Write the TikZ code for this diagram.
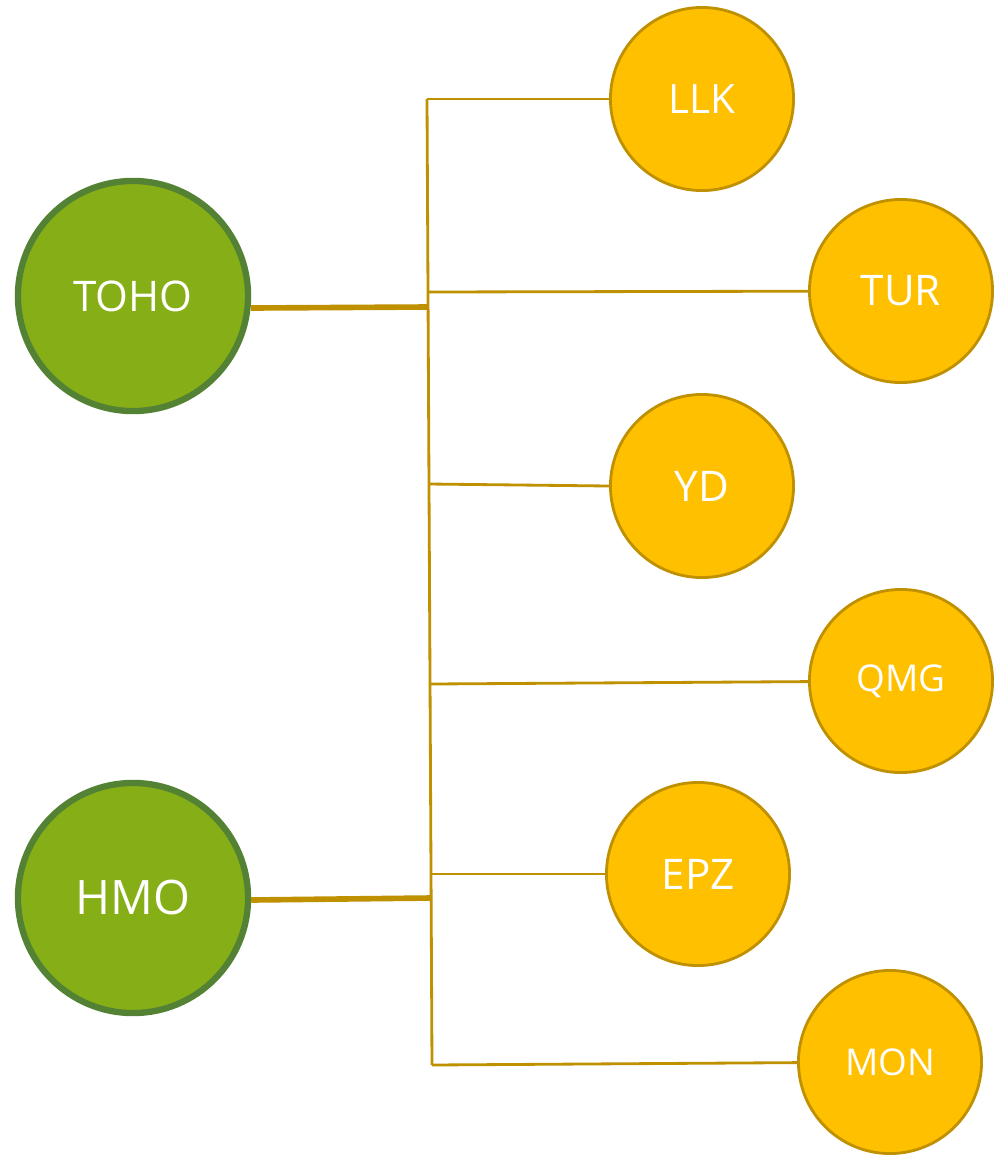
\documentclass[tikz,border=0pt]{standalone}
\usepackage{fontspec}
\setmainfont{Open Sans}
\definecolor{hubfill}{HTML}{86AE17}
\definecolor{hubline}{HTML}{548235}
\definecolor{leaffill}{HTML}{FFC000}
\definecolor{leafline}{HTML}{BF9000}
\begin{document}
\begin{tikzpicture}[x=0.01cm,y=-0.01cm]

\tikzset{hub/.style = {shape=circle,draw=hubline,line width=1.8pt,fill=hubfill,text=white,minimum size=2.3cm,inner sep=0pt}}
\tikzset{leaf/.style = {shape=circle,draw=leafline,line width=0.8pt,fill=leaffill,text=white,minimum size=1.83cm,inner sep=0pt}}
\tikzset{bus/.style = {draw=leafline,line width=0.8pt}}
\tikzset{trunk/.style = {draw=leafline,line width=1.6pt}}

\useasboundingbox (0,0) rectangle (1000,1160);

% vertices
\node[hub] (toho) at (133,296) {\fontsize{12}{14}\selectfont TOHO};
\node[hub] (hmo) at (133,898) {\fontsize{13.5}{16}\selectfont HMO};
\node[leaf] (llk) at (702,99) {\fontsize{11.5}{14}\selectfont LLK};
\node[leaf] (tur) at (901,291) {\fontsize{12}{14}\selectfont TUR};
\node[leaf] (yd) at (702,486) {\fontsize{12}{14}\selectfont YD};
\node[leaf] (qmg) at (901,681) {\fontsize{10.5}{12}\selectfont QMG};
\node[leaf] (epz) at (698,874) {\fontsize{12}{14}\selectfont EPZ};
\node[leaf] (mon) at (890,1062) {\fontsize{10.5}{12}\selectfont MON};

% bus
\coordinate (top) at (427,99);
\coordinate (bot) at (432,1065);
\coordinate (j1) at (428,307);
\coordinate (j2) at (431,898);
\coordinate (b2) at (428,292);
\coordinate (b3) at (429,484);
\coordinate (b4) at (431,684);
\coordinate (b5) at (431,874);

\draw[bus] (top) -- (bot);
\draw[trunk] (toho.east |- 0,308) -- (j1);
\draw[trunk] (hmo.east |- 0,900) -- (j2);
\draw[bus] (top) -- (llk);
\draw[bus] (b2) -- (tur);
\draw[bus] (b3) -- (yd.west);
\draw[bus] (b4) -- (qmg);
\draw[bus] (b5) -- (epz);
\draw[bus] (bot) -- (mon);

\end{tikzpicture}
\end{document}
